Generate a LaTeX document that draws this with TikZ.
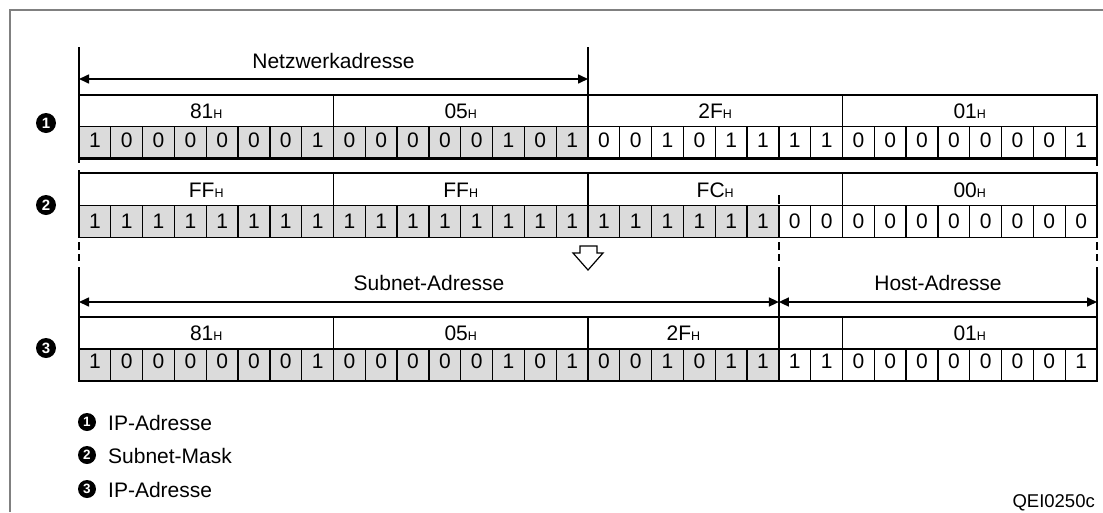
\documentclass[tikz,border=0pt]{standalone}
\usepackage{fontspec}
\setmainfont{Liberation Sans}
\usetikzlibrary{arrows.meta}
\definecolor{cellgray}{gray}{0.86}
\definecolor{framegray}{gray}{0.5}
\newcommand\hexH[1]{#1{\fontsize{12.5}{12}\selectfont H}}
\begin{document}
\begin{tikzpicture}[x=1pt,y=-1pt,
  txt/.style={font=\fontsize{21}{24}\selectfont, inner sep=0pt},
  bitnode/.style={txt, anchor=center},
  thinln/.style={line width=1.3pt},
  outerln/.style={line width=2.5pt},
  midln/.style={line width=1.8pt},
  bigln/.style={line width=2.4pt},
  dimarrow/.style={line width=1.6pt, {Triangle[length=10pt,width=9pt]}-{Triangle[length=10pt,width=9pt]}},
  numcirc/.style={circle, fill=black, text=white, inner sep=0pt, minimum size=20pt, font=\bfseries\fontsize{15}{15}\selectfont},
  legcirc/.style={numcirc, minimum size=18pt, font=\bfseries\fontsize{13.5}{13}\selectfont},
]
\useasboundingbox (0,0) rectangle (1103,512);
\def\bw{31.8125}
% frame
\draw[framegray, line width=1.8pt] (10,512) -- (10,10) -- (1103,10);

% ---------- Row 1 ----------
\fill[cellgray] (79,126.75) rectangle ({79+16*\bw},158.5);
\foreach \b [count=\i from 0] in {1,0,0,0,0,0,0,1, 0,0,0,0,0,1,0,1, 0,0,1,0,1,1,1,1, 0,0,0,0,0,0,0,1}
  \node[bitnode] (ra\i) at ({79+(\i+0.5)*\bw},140.5) {\b};
\draw[thinln] (79,126.75) -- (1097,126.75);
\foreach \i in {1,...,31} \draw[thinln] ({79+\i*\bw},126.75) -- ({79+\i*\bw},158.5);
\foreach \i in {8,24} \draw[thinln] ({79+\i*\bw},95) -- ({79+\i*\bw},126.75);
\draw[outerln] (79,95) rectangle (1097,158.5);
\node[bitnode] (ha0) at ({79+4*\bw},111) {\hexH{81}};
\node[bitnode] (ha1) at ({79+12*\bw},111) {\hexH{05}};
\node[bitnode] (ha2) at ({79+20*\bw},111) {\hexH{2F}};
\node[bitnode] (ha3) at ({79+28*\bw},111) {\hexH{01}};

% Netzwerkadresse
\draw[bigln] ({79+16*\bw},47) -- ({79+16*\bw},158.5);
\draw[bigln] (79,47) -- (79,163);
\coordinate (nal) at (79,79);
\coordinate (nar) at ({79+16*\bw},79);
\draw[dimarrow] (nal) -- (nar);
\node[txt, anchor=base] (nat) at ({79+8*\bw},68) {Netzwerkadresse};
\draw[midln] (1097,160) -- (1097,166);

% ---------- Row 2 ----------
\fill[cellgray] (79,205.25) rectangle ({79+22*\bw},237.5);
\foreach \b [count=\i from 0] in {1,1,1,1,1,1,1,1, 1,1,1,1,1,1,1,1, 1,1,1,1,1,1,0,0, 0,0,0,0,0,0,0,0}
  \node[bitnode] (rb\i) at ({79+(\i+0.5)*\bw},221.5) {\b};
\draw[thinln] (79,205.25) -- (1097,205.25);
\foreach \i in {1,...,31} \draw[thinln] ({79+\i*\bw},205.25) -- ({79+\i*\bw},237.5);
\foreach \i in {8,16,24} \draw[thinln] ({79+\i*\bw},173) -- ({79+\i*\bw},205.25);
\draw[midln] (79,173) rectangle (1097,237.5);
\draw[bigln] (79,170) -- (79,237.5);
\draw[midln] ({79+22*\bw},195) -- ({79+22*\bw},204);
\node[bitnode] (hb0) at ({79+4*\bw},190) {\hexH{FF}};
\node[bitnode] (hb1) at ({79+12*\bw},190) {\hexH{FF}};
\node[bitnode] (hb2) at ({79+20*\bw},190) {\hexH{FC}};
\node[bitnode] (hb3) at ({79+28*\bw},190) {\hexH{00}};

% hollow arrow
\draw[line width=1.2pt, fill=white] (580,246) -- (597,246) -- (597,253) -- (603,253) -- (588,270) -- (573,253) -- (580,253) -- cycle;

% dashed guide segments
\foreach \xx in {79,{79+22*\bw},1097} {
  \draw[midln] (\xx,242) -- (\xx,250);
  \draw[midln] (\xx,254) -- (\xx,261);
}
\draw[bigln] (79,267) -- (79,381);
\draw[bigln] ({79+22*\bw},267) -- ({79+22*\bw},381);
\draw[midln] (1097,267) -- (1097,317);

% Subnet / Host arrows
\coordinate (sal) at (79,302);
\coordinate (sar) at ({79+22*\bw},302);
\coordinate (har) at (1097,302);
\draw[dimarrow] (sal) -- (sar);
\draw[dimarrow] (sar) -- (har);
\node[txt, anchor=base] (sat) at ({79+11*\bw},290) {Subnet-Adresse};
\node[txt, anchor=base] (hat) at ({79+27*\bw},290) {Host-Adresse};

% ---------- Row 3 ----------
\fill[cellgray] (79,349) rectangle ({79+22*\bw},381);
\foreach \b [count=\i from 0] in {1,0,0,0,0,0,0,1, 0,0,0,0,0,1,0,1, 0,0,1,0,1,1,1,1, 0,0,0,0,0,0,0,1}
  \node[bitnode] (rc\i) at ({79+(\i+0.5)*\bw},361.5) {\b};
\draw[thinln] (79,349) -- (1097,349);
\foreach \i in {1,...,31} \draw[thinln] ({79+\i*\bw},349) -- ({79+\i*\bw},381);
\foreach \i in {8,16,24} \draw[thinln] ({79+\i*\bw},317) -- ({79+\i*\bw},349);
\draw[outerln] (79,317) rectangle (1097,381);
\draw[bigln] ({79+22*\bw},317) -- ({79+22*\bw},381);
\node[bitnode] (hc0) at ({79+4*\bw},333.5) {\hexH{81}};
\node[bitnode] (hc1) at ({79+12*\bw},333.5) {\hexH{05}};
\node[bitnode] (hc2) at ({79+19*\bw},333.5) {\hexH{2F}};
\node[bitnode] (hc3) at ({79+28*\bw},333.5) {\hexH{01}};

% row markers
\node[numcirc] (m1) at (46,123) {1};
\node[numcirc] (m2) at (46,205) {2};
\node[numcirc] (m3) at (46,348) {3};

% legend
\node[legcirc] (l1) at (87,422) {1};
\node[legcirc] (l2) at (87,455) {2};
\node[legcirc] (l3) at (87,489) {3};
\node[txt, anchor=base west] (lt1) at (108,430) {IP-Adresse};
\node[txt, anchor=base west] (lt2) at (108,463) {Subnet-Mask};
\node[txt, anchor=base west] (lt3) at (108,497) {IP-Adresse};

\node[inner sep=0pt, anchor=base east, font=\fontsize{18.5}{20}\selectfont] (code) at (1095,507) {QEI0250c};
\end{tikzpicture}
\end{document}
